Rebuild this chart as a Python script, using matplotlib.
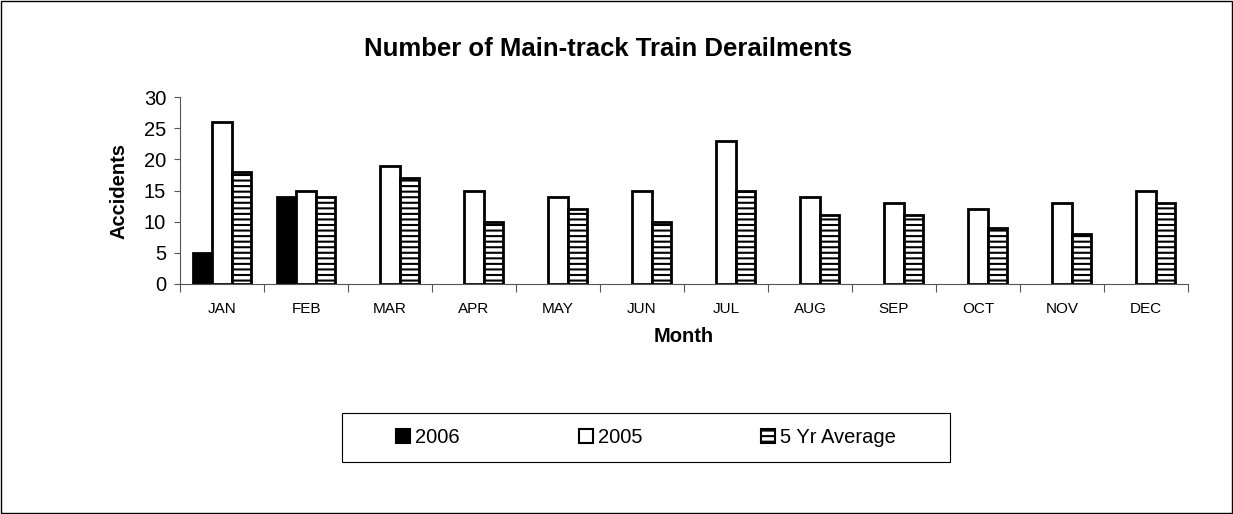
import matplotlib
matplotlib.use("Agg")
import matplotlib.pyplot as plt
import numpy as np
from matplotlib.patches import Rectangle

months = ['JAN', 'FEB', 'MAR', 'APR', 'MAY', 'JUN', 'JUL', 'AUG', 'SEP', 'OCT', 'NOV', 'DEC']
y2006 = [5, 14, np.nan, np.nan, np.nan, np.nan, np.nan, np.nan, np.nan, np.nan, np.nan, np.nan]
y2005 = [26, 15, 19, 15, 14, 15, 23, 14, 13, 12, 13, 15]
avg5 = [18, 14, 17, 10, 12, 10, 15, 11, 11, 9, 8, 13]

plt.rcParams['font.family'] = ['Liberation Sans', 'DejaVu Sans']
plt.rcParams['hatch.linewidth'] = 1.5

fig = plt.figure(figsize=(12.33, 5.14), dpi=100)
ax = fig.add_axes([0.146, 0.4475, 0.8175, 0.3635])

x = np.arange(len(months))
w = 0.23
ax.bar(x - w, y2006, w, color='black', edgecolor='black', linewidth=2, label='2006')
ax.bar(x, y2005, w, color='white', edgecolor='black', linewidth=2, label='2005')
ax.bar(x + w, avg5, w, color='white', edgecolor='black', linewidth=2, hatch='---', label='5 Yr Average')

ax.set_xlim(-0.5, len(months) - 0.5)
ax.set_ylim(0, 30)
ax.set_yticks(range(0, 31, 5))
ax.set_xticks(x)
ax.set_xticklabels(months, fontsize=11)
ax.set_xticks(np.arange(-0.5, len(months)), minor=True)
ax.tick_params(axis='x', which='major', length=0, pad=13)
ax.tick_params(axis='x', which='minor', length=6, direction='out', width=0.8, color='#555555')
ax.tick_params(axis='y', labelsize=14.5, length=4, width=0.8, pad=6, color='#555555')
for s in ['top', 'right']:
    ax.spines[s].set_visible(False)
ax.spines['left'].set_color('#555555')
ax.spines['bottom'].set_color('#555555')

ax.set_xlabel('Month', fontsize=14.5, fontweight='bold', labelpad=8)
ax.set_ylabel('Accidents', fontsize=14.5, fontweight='bold', labelpad=11)
fig.text(0.4935, 0.905, 'Number of Main-track Train Derailments', ha='center', va='center',
         fontsize=18.5, fontweight='bold')

# legend box drawn separately so the inner padding can be wider than tall
fig.patches.append(Rectangle((342 / 1233, 1 - 462 / 514), (950 - 342) / 1233, 49 / 514,
                             transform=fig.transFigure, fill=False, edgecolor='black',
                             linewidth=0.8))
leg = fig.legend(loc='center left', bbox_to_anchor=(396 / 1233, 1 - 437.5 / 514), ncol=3,
                 fontsize=14.5, frameon=False, handlelength=0.7, handleheight=0.7,
                 handletextpad=0.25, columnspacing=5.9, borderpad=0, borderaxespad=0)
for h in leg.legend_handles:
    h.set_linewidth(1.5)

fig.patches.append(Rectangle((0.0008, 0.001), 0.998, 0.997, transform=fig.transFigure,
                             fill=False, edgecolor='black', linewidth=1))

fig.savefig('out.png', dpi=100)
